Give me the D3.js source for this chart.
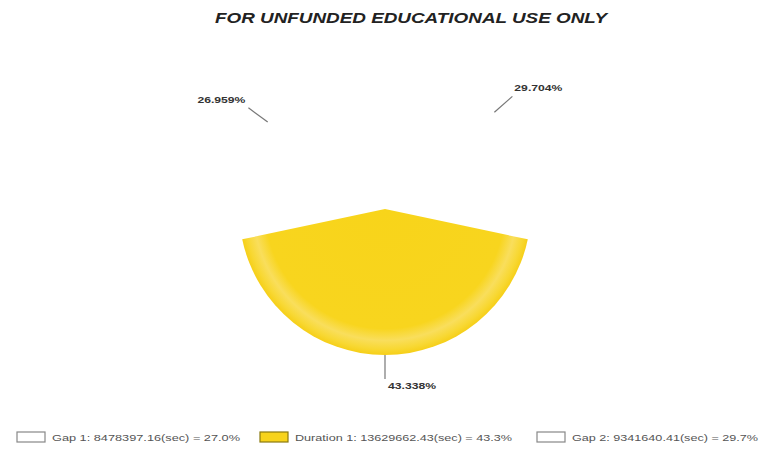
<!DOCTYPE html>
<html><head><meta charset="utf-8">
<script src="https://cdn.jsdelivr.net/npm/d3@7"></script>
<style>body{margin:0;background:#fff}svg{display:block}</style>
</head><body>
<svg id="c" width="767" height="449"></svg>
<script>
const categories = ["Gap 1", "Duration 1", "Gap 2"];
const values = [8478397.16, 13629662.43, 9341640.41];
const pctLabels = ["26.959%", "43.338%", "29.704%"];
const legendLabels = ["Gap 1: 8478397.16(sec) = 27.0%", "Duration 1: 13629662.43(sec) = 43.3%", "Gap 2: 9341640.41(sec) = 29.7%"];
const fills = ["none", "url(#yg)", "none"];
const title = "FOR UNFUNDED EDUCATIONAL USE ONLY";

const svg = d3.select("#c");
const cx = 385, cy = 209, R = 146;

const defs = svg.append("defs");
const g = defs.append("radialGradient").attr("id","yg").attr("gradientUnits","userSpaceOnUse")
  .attr("cx",0).attr("cy",0).attr("r",R);
[[0,"#f8d41a"],[0.82,"#f8d51e"],[0.9,"#f9de5c"],[0.96,"#f8d833"],[1,"#f6cf18"]].forEach(s=>
  g.append("stop").attr("offset",s[0]).attr("stop-color",s[1]));

svg.append("text").attr("x",411).attr("y",23).attr("text-anchor","middle")
  .attr("font-family","Liberation Sans, Arial, sans-serif").attr("font-weight","bold")
  .attr("font-style","italic").attr("font-size",14.5).attr("fill","#222")
  .attr("textLength",392).attr("lengthAdjust","spacingAndGlyphs").text(title);

const total = d3.sum(values);
const start = Math.PI + (values[0] + values[1]/2)/total*2*Math.PI;
const pie = d3.pie().sort(null).startAngle(start).endAngle(start - 2*Math.PI);
const arcs = pie(values);
const arc = d3.arc().innerRadius(0).outerRadius(R);

const pg = svg.append("g").attr("transform",`translate(${cx},${cy})`);
pg.selectAll("path").data(arcs).join("path").attr("d",arc)
  .attr("fill",(d,i)=>fills[i]).attr("stroke","none");

const lab = svg.append("g").attr("font-family","Liberation Sans, Arial, sans-serif")
  .attr("font-size",9).attr("font-weight","bold").attr("fill","#333");
arcs.forEach((d,i)=>{
  const a = (d.startAngle + d.endAngle)/2;
  const sx = Math.sin(a), sy = -Math.cos(a);
  const x1 = cx + sx*R, y1 = cy + sy*R;
  const x2 = cx + sx*(R+24), y2 = cy + sy*(R+24);
  lab.append("line").attr("x1",x1).attr("y1",y1).attr("x2",x2).attr("y2",y2)
    .attr("stroke","#777").attr("stroke-width",1.2);
  let tx, ty, anchor;
  if (i===0){ tx = x2-3; ty = y2-5; anchor="end"; }
  else if (i===1){ tx = x2+3; ty = y2+10; anchor="start"; }
  else { tx = x2+2; ty = y2-5; anchor="start"; }
  lab.append("text").attr("x",tx).attr("y",ty).attr("text-anchor",anchor)
    .attr("textLength",48).attr("lengthAdjust","spacingAndGlyphs").text(pctLabels[i]);
});

const legX = [17, 260, 537];
const legW = [188, 217, 186];
const leg = svg.append("g").attr("font-family","Liberation Sans, Arial, sans-serif")
  .attr("font-size",9.5).attr("fill","#555");
categories.forEach((c,i)=>{
  leg.append("rect").attr("x",legX[i]).attr("y",432).attr("width",28).attr("height",10)
    .attr("fill", i===1 ? "#f7d31c" : "#fff")
    .attr("stroke", i===1 ? "#8a7a10" : "#888").attr("stroke-width",1.2);
  leg.append("text").attr("x",legX[i]+35).attr("y",441)
    .attr("textLength",legW[i]).attr("lengthAdjust","spacingAndGlyphs").text(legendLabels[i]);
});
</script>
</body></html>
